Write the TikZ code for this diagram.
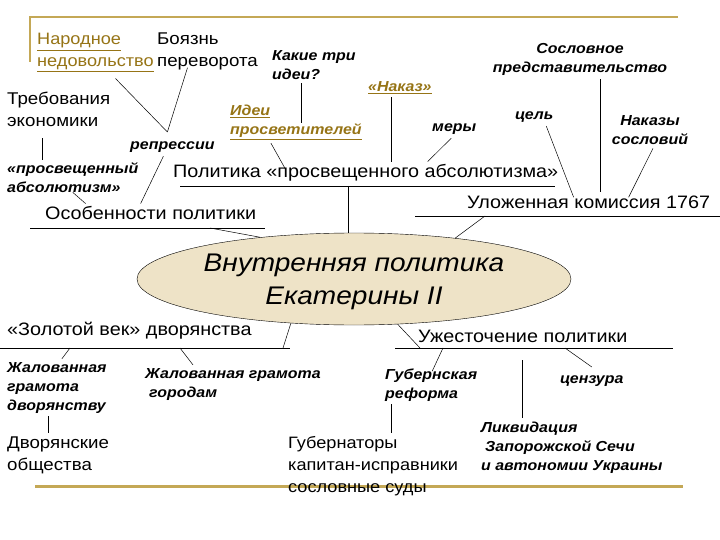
\documentclass[tikz,border=0pt]{standalone}
\usepackage{fontspec}
\setmainfont[FakeStretch=1.1]{Liberation Sans}
\definecolor{frameGold}{RGB}{196,168,86}
\definecolor{linkGold}{RGB}{150,116,22}
\definecolor{ovalFill}{RGB}{238,227,199}
\usetikzlibrary{shapes.geometric, calc}

\begin{document}
\begin{tikzpicture}[x=1pt, y=-1pt,
    lbl/.style={font=\fontsize{18}{22}\selectfont, align=left, inner xsep=0pt, inner ysep=3pt, anchor=base west},
    small/.style={font=\fontsize{17}{22}\selectfont},
    smaller/.style={font=\fontsize{16.5}{22}\selectfont},
    note/.style={font=\fontsize{14.5}{19}\selectfont\bfseries\itshape, align=left, inner xsep=0pt, inner ysep=3pt, anchor=base west},
    link/.style={text=linkGold},
    bar/.style={line width=0.6pt},
    wire/.style={line width=0.5pt}]
  \useasboundingbox (0,0) rectangle (720,540);

  % Frame
  \draw[frameGold, line width=2pt] (30,62) -- (30,17) -- (678,17);
  \draw[frameGold, line width=3pt] (35,486) -- (683,486);

  % Upper labels
  \node[lbl, smaller, link] (nar) at (37,67) {\underline{Народное}\\\underline{недовольство}};
  \node[lbl, small] (boy) at (157,67) {Боязнь\\переворота};
  \node[note] (kak) at (272,80) {Какие три\\идеи?};
  \node[lbl, small] (treb) at (7,127) {Требования\\экономики};
  \node[note, link] (idei) at (230,135) {\underline{Идеи}\\\underline{просветителей}};
  \node[note, link] (nakaz) at (368,92) {\underline{«Наказ»}};
  \node[note] (mery) at (432,132) {меры};
  \node[note] (cel) at (515,120) {цель};
  \node[note, align=center, anchor=base] (sosl) at (580,73) {Сословное\\представительство};
  \node[note, align=center, anchor=base] (naksos) at (650,145) {Наказы\\сословий};
  \node[note] (rep) at (130,150) {репрессии};
  \node[note] (prosv) at (7,193) {«просвещенный\\абсолютизм»};

  % Headings
  \node[lbl] (pol) at (173,178) {Политика «просвещенного абсолютизма»};
  \node[lbl] (osob) at (45,220) {Особенности политики};
  \node[lbl] (ulo) at (467,208) {Уложенная комиссия 1767};
  \node[ellipse, draw, fill=ovalFill, minimum width=434pt, minimum height=92pt, inner sep=0pt,
    align=center, font=\fontsize{25.5}{33}\selectfont\itshape] (core) at (354,279)
    {\rule{0pt}{23pt}Внутренняя политика\\Екатерины II};
  \node[lbl] (zol) at (7,335) {«Золотой век» дворянства};
  \node[lbl] (uzh) at (418,342) {Ужесточение политики};

  % Lower labels
  \node[note] (zhd) at (7,410) {Жалованная\\грамота\\дворянству};
  \node[note] (zhg) at (145,397) {Жалованная грамота\\\hspace{4pt}городам};
  \node[note] (gubr) at (385,398) {Губернская\\реформа};
  \node[note] (cenz) at (560,383) {цензура};
  \node[lbl, small] (dvor) at (7,470) {Дворянские\\общества};
  \node[lbl, smaller] (gub) at (288,492) {Губернаторы\\капитан-исправники\\сословные суды};
  \node[note] (likv) at (481,470) {Ликвидация\\\hspace{4pt}Запорожской Сечи\\и автономии Украины};

  % Bars under headings
  \draw[bar] (180,186) -- (555,186);
  \draw[bar] (30,228) -- (265,228);
  \draw[bar] (415,216) -- (720,216);
  \draw[bar] (0,348) -- (290,348);
  \draw[bar] (395,348) -- (673,348);
  \coordinate (polbar) at (348,186);
  \coordinate (osobbar) at (210,228);
  \coordinate (ulobar) at (485,216);
  \coordinate (zolbar) at (283,348);
  \coordinate (zolA) at (70,348);
  \coordinate (zolB) at (180,348);
  \coordinate (uzhbar) at (420,348);
  \coordinate (uzhA) at (443,348);
  \coordinate (uzhB) at (565,348);
  \coordinate (likvtop) at (522,360);

  % Connectors
  \draw[wire] ([xshift=20pt,yshift=-3pt]nar.south) -- ([xshift=-5pt,yshift=7pt]rep.north);
  \draw[wire] ([xshift=-20pt,yshift=6pt]boy.south) -- ([xshift=-5pt,yshift=7pt]rep.north);
  \draw[wire] ([xshift=-13pt]kak.south) -- ([xshift=-13pt]kak.south |- idei.center);
  \draw[wire] ([xshift=-16pt,yshift=-8pt]treb.south) -- ([xshift=-16pt]treb.south |- prosv.north);
  \draw[wire] ([xshift=-25pt]idei.south) -- ([xshift=-80pt,yshift=-8pt]pol.north);
  \draw[wire] ([xshift=-9pt]nakaz.south) -- ([xshift=-9pt]nakaz.south |- pol.north);
  \draw[wire] ([xshift=-3pt]mery.south) -- ([xshift=62pt]pol.north);
  \draw[wire] ([xshift=12pt]cel.south) -- ([xshift=-15pt,yshift=-5pt]ulo.north);
  \draw[wire] ([xshift=20pt]sosl.south) -- ([xshift=20pt]sosl.south |- ulo.north);
  \draw[wire] ([xshift=3pt]naksos.south) -- ([xshift=40pt,yshift=-5pt]ulo.north);
  \draw[wire] ([xshift=-9pt]rep.south) -- ([xshift=-10pt]osob.north);
  \draw[wire] ([yshift=4pt]prosv.south) -- ([xshift=-65pt]osob.north);
  \draw[wire] (polbar) -- (polbar |- core.north);
  \draw[wire] (osobbar) -- (core.156);
  \draw[wire] (ulobar) -- (core.22);
  \draw[wire] (core.215) -- (zolbar);
  \draw[wire] (core.314) -- (uzhbar);
  \draw[wire] (zolA) -- ([xshift=5pt]zhd.north);
  \draw[wire] (zolB) -- ([xshift=-40pt]zhg.north);
  \draw[wire] ([xshift=-9pt]zhd.south) -- ([xshift=-9pt]zhd.south |- dvor.north);
  \draw[wire] (uzhA) -- ([xshift=1pt,yshift=-6pt]gubr.north);
  \draw[wire] (uzhB) -- ([yshift=5pt]cenz.north);
  \draw[wire] (likvtop) -- (likvtop |- likv.north);
  \draw[wire] ([xshift=-40pt]gubr.south) -- ([xshift=-40pt]gubr.south |- gub.north);
\end{tikzpicture}
\end{document}
